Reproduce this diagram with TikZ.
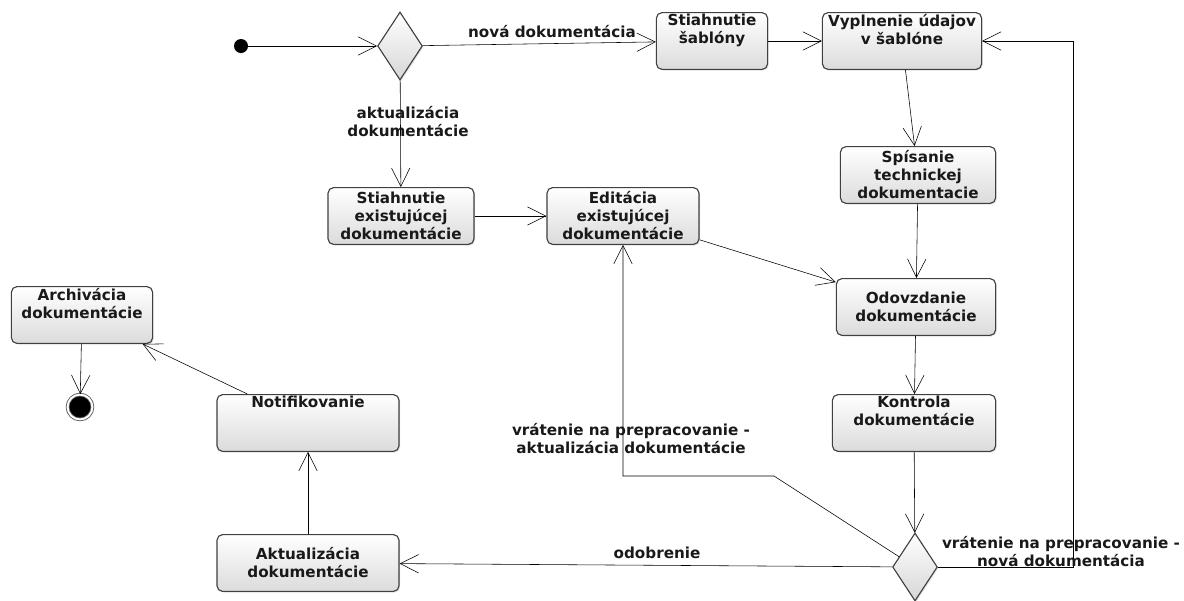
\documentclass[tikz,border=0pt]{standalone}
\usepackage{fontspec}
\setmainfont{DejaVu Sans}
\usetikzlibrary{positioning, shapes.geometric, arrows.meta, shadows}
\tikzset{
  ->,
  >={Straight Barb[length=4.6mm,width=4.6mm]},
  x=0.025cm, y=-0.025cm,
  line width=0.7pt,
  every node/.style={font=\bfseries\fontsize{10.8}{12.8}\selectfont, text=black!90},
  act/.style={rectangle, rounded corners=4pt, draw=black!75, line width=0.8pt,
    top color=white, bottom color=black!14, minimum height=1.42cm,
    align=center, inner sep=1pt,
    drop shadow={shadow xshift=0.8pt, shadow yshift=-0.8pt, opacity=0.25}},
  act text/.style={anchor=north, align=center, inner sep=1.5pt},
  decision/.style={diamond, draw=black!75, line width=0.8pt,
    top color=white, bottom color=black!16, minimum width=1.12cm,
    minimum height=1.7cm, inner sep=0pt,
    drop shadow={shadow xshift=0.8pt, shadow yshift=-0.8pt, opacity=0.25}},
  start/.style={circle, fill=black, minimum size=0.35cm, inner sep=0pt},
  stop/.style={circle, fill=black, draw=black!65, line width=0.6pt,
    double=white, double distance=1.4pt, minimum size=0.62cm, inner sep=0pt},
  guard/.style={align=center},
}

\begin{document}
\begin{tikzpicture}
      \useasboundingbox (0,0) rectangle (1184,600);

      \node[start] (init) at (241,46) {};
      \node[decision] (dec1) at (400,46) {};
      \node[act, minimum width=2.78cm, label={[act text]north:Stiahnutie\\šablóny}] (sablona) at (712,41) {};
      \node[act, minimum width=3.98cm, label={[act text]north:Vyplnenie údajov\\v šablóne}] (vyplnenie) at (902,41) {};
      \node[act, minimum width=3.88cm] (spisanie) at (918,175) {Spísanie\\technickej\\dokumentacie};
      \node[act, minimum width=3.98cm] (odovzdanie) at (916,307) {Odovzdanie\\dokumentácie};
      \node[act, minimum width=4.08cm, label={[act text]north:Kontrola\\dokumentácie}] (kontrola) at (914,423) {};
      \node[decision] (dec2) at (915,567) {};
      \node[act, minimum width=3.65cm] (stiahnutie) at (401,216) {Stiahnutie\\existujúcej\\dokumentácie};
      \node[act, minimum width=3.8cm] (editacia) at (623,216) {Editácia\\existujúcej\\dokumentácie};
      \node[act, minimum width=3.53cm, label={[act text]north:Archivácia\\dokumentácie}] (archivacia) at (82,315) {};
      \node[stop] (final) at (80,407) {};
      \node[act, minimum width=4.55cm, label={[act text]north:Notifikovanie}] (notifikovanie) at (308,423) {};
      \node[act, minimum width=4.55cm] (aktualizacia) at (308,563) {Aktualizácia\\dokumentácie};

      \coordinate (vratAkt) at (774,476);
      \coordinate (vratNova) at (1073,41);

      \draw (init) -- (dec1);
      \draw (dec1) -- (sablona);
      \draw (dec1) -- (stiahnutie);
      \draw (sablona) -- (vyplnenie);
      \draw (vyplnenie) -- (spisanie);
      \draw (spisanie) -- (odovzdanie);
      \draw (stiahnutie) -- (editacia);
      \draw (editacia) -- (odovzdanie);
      \draw (odovzdanie) -- (kontrola);
      \draw (kontrola) -- (dec2);
      \draw (dec2) -- (aktualizacia);
      \draw (dec2) -- (vratAkt) -| (editacia);
      \draw (dec2) -| (vratNova) -- (vyplnenie);
      \draw (aktualizacia) -- (notifikovanie);
      \draw (notifikovanie) -- (archivacia);
      \draw (archivacia) -- (final);

      \node[guard] (gNova) at (552,32) {nová dokumentácia};
      \node[guard] (gAkt) at (408,122) {aktualizácia\\dokumentácie};
      \node[guard] (gOdobrenie) at (657,553) {odobrenie};
      \node[guard] (gVratAkt) at (631,439) {vrátenie na prepracovanie -\\aktualizácia dokumentácie};
      \node[guard] (gVratNova) at (1061,552) {vrátenie na prepracovanie -\\nová dokumentácia};
    \end{tikzpicture}
\end{document}
